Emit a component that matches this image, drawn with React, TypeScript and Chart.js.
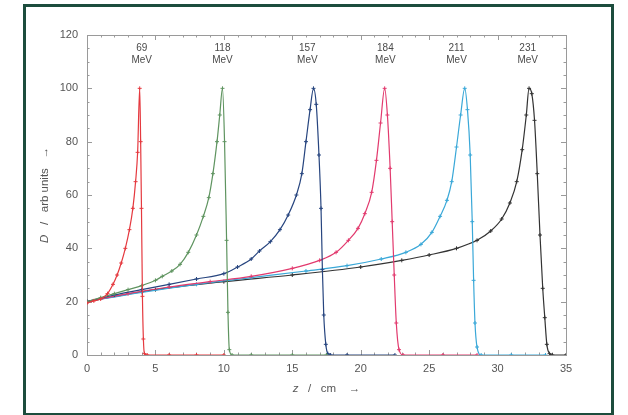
import React, { useEffect, useRef } from "react";
import { Chart, registerables } from "chart.js";

Chart.register(...registerables);

// Peak labels (beam energies) and their horizontal positions (cm)
const energyLabels = ["69", "118", "157", "184", "211", "231"];
const labelZ = [4.0, 9.9, 16.1, 21.8, 27.0, 32.2];

// 69 MeV
const z69 = [0, 0.5, 1, 1.5, 1.9, 2.2, 2.5, 2.8, 3.1, 3.35, 3.55, 3.7, 3.85, 3.92, 3.98, 4.05, 4.12, 4.2, 4.4, 6, 8, 10];
const d69 = [19.5, 20.3, 21, 23, 26.5, 30, 34.5, 40, 47, 55, 65, 76, 100, 80, 55, 22, 6, 0.5, 0, 0, 0, 0];

// 118 MeV
const z118 = [0, 1, 2, 3, 4, 5, 5.5, 6.2, 6.8, 7.4, 8.0, 8.5, 8.9, 9.2, 9.5, 9.7, 9.9, 10.05, 10.2, 10.3, 10.4, 10.6, 12, 15, 17.5];
const d118 = [20, 21.5, 23, 24.5, 26, 28, 29.5, 31.5, 34, 38.5, 45, 52, 59, 68, 80, 90, 100, 80, 43, 16, 2, 0, 0, 0, 0];

// 157 MeV
const z157 = [0, 2, 4, 6, 8, 10, 11, 12, 12.6, 13.4, 14.1, 14.7, 15.3, 15.7, 16.0, 16.3, 16.55, 16.75, 16.95, 17.1, 17.2, 17.3, 17.45, 17.6, 17.8, 19, 22.5];
const d157 = [20, 22.5, 24.5, 26.5, 28.5, 30.5, 33, 36, 39, 42.5, 47, 52.5, 60, 68, 80, 92, 100, 94, 75, 55, 32, 15, 4, 0.5, 0, 0, 0];

// 184 MeV
const z184 = [0, 3, 6, 9, 12, 15, 17, 18.2, 19.1, 19.8, 20.3, 20.8, 21.15, 21.45, 21.75, 21.95, 22.15, 22.3, 22.45, 22.6, 22.8, 23.1, 26, 28.5];
const d184 = [20, 23, 25.5, 27.5, 29.5, 32.5, 35.5, 38.5, 43, 47.5, 53, 61, 73, 87, 100, 90, 70, 50, 30, 12, 2, 0, 0, 0];

// 211 MeV
const z211 = [0, 4, 8, 12, 16, 19, 21.5, 23.3, 24.4, 25.2, 25.8, 26.3, 26.65, 27.0, 27.3, 27.6, 27.8, 28.0, 28.15, 28.25, 28.35, 28.5, 28.8, 31, 33.5];
const d211 = [20, 23.5, 26.5, 29, 31.5, 33.5, 36, 38.5, 41.5, 46, 52, 58, 65, 78, 90, 100, 92, 75, 50, 28, 12, 3, 0, 0, 0];

// 231 MeV
const z231 = [0, 5, 10, 15, 20, 23, 25, 27, 28.5, 29.5, 30.3, 30.9, 31.4, 31.8, 32.1, 32.3, 32.5, 32.7, 32.9, 33.1, 33.3, 33.45, 33.6, 33.8, 34.0, 35];
const d231 = [20, 24.5, 27.5, 30, 33, 35.5, 37.5, 40, 43, 46.5, 51, 57, 65, 77, 90, 100, 98, 88, 68, 45, 25, 14, 4, 0.5, 0, 0];

const seriesZ = [z69, z118, z157, z184, z211, z231];
const seriesD = [d69, d118, d157, d184, d211, d231];
const seriesColors = ["#e5393f", "#5f9460", "#27457f", "#e23a6e", "#3aa8d8", "#333333"];

const FONT = "'Liberation Sans', Arial, sans-serif";

const decorPlugin = {
  id: "decor",
  beforeDatasetsDraw(chart: any) {
    const { ctx, chartArea } = chart;
    const xs = chart.scales.x;
    const ys = chart.scales.y;
    const { left, right, top, bottom } = chartArea;
    ctx.save();
    ctx.strokeStyle = "#9a9a9a";
    ctx.lineWidth = 1;
    ctx.strokeRect(Math.round(left) + 0.5, Math.round(top) + 0.5, Math.round(right - left), Math.round(bottom - top));
    ctx.beginPath();
    for (let v = 1; v < 35; v++) {
      const px = Math.round(xs.getPixelForValue(v)) + 0.5;
      const len = v % 5 === 0 ? 5 : 2.5;
      ctx.moveTo(px, bottom);
      ctx.lineTo(px, bottom - len);
      ctx.moveTo(px, top);
      ctx.lineTo(px, top + len);
    }
    for (let v = 5; v < 120; v += 5) {
      const py = Math.round(ys.getPixelForValue(v)) + 0.5;
      const len = v % 20 === 0 ? 5 : 2.5;
      ctx.moveTo(left, py);
      ctx.lineTo(left + len, py);
      ctx.moveTo(right, py);
      ctx.lineTo(right - len, py);
    }
    ctx.stroke();
    ctx.restore();
  },
  afterDraw(chart: any) {
    const { ctx, chartArea } = chart;
    const xs = chart.scales.x;
    const ys = chart.scales.y;
    ctx.save();
    ctx.fillStyle = "#4a4a4a";
    ctx.textAlign = "center";
    ctx.textBaseline = "middle";
    ctx.font = `10px ${FONT}`;
    energyLabels.forEach((lab, i) => {
      const px = xs.getPixelForValue(labelZ[i]);
      ctx.fillText(lab, px, ys.getPixelForValue(115));
      ctx.fillText("MeV", px, ys.getPixelForValue(110.5));
    });

    const drawMixed = (parts: [string, boolean][], cx: number, cy: number) => {
      let total = 0;
      const widths = parts.map(([t, it]) => {
        ctx.font = `${it ? "italic " : ""}11.5px ${FONT}`;
        const w = ctx.measureText(t).width;
        total += w;
        return w;
      });
      let x = cx - total / 2;
      ctx.textAlign = "left";
      parts.forEach(([t, it], i) => {
        ctx.font = `${it ? "italic " : ""}11.5px ${FONT}`;
        ctx.fillText(t, x, cy);
        x += widths[i];
      });
    };
    ctx.fillStyle = "#555";
    const cx = (chartArea.left + chartArea.right) / 2;
    drawMixed([["z", true], ["   /   cm    \u2192", false]], cx, chartArea.bottom + 34);

    ctx.save();
    ctx.translate(chartArea.left - 42, (chartArea.top + chartArea.bottom) / 2);
    ctx.rotate(-Math.PI / 2);
    drawMixed([["D", true], ["   /   arb units   \u2192", false]], 0, 0);
    ctx.restore();
    ctx.restore();
  },
};

export default function App() {
  const canvasRef = useRef<HTMLCanvasElement | null>(null);

  useEffect(() => {
    if (!canvasRef.current) return;
    const datasets = seriesZ.map((zs, i) => ({
      label: energyLabels[i] + " MeV",
      data: zs.map((z, j) => ({ x: z, y: seriesD[i][j] })),
      borderColor: seriesColors[i],
      backgroundColor: seriesColors[i],
      borderWidth: 1.2,
      pointStyle: "cross",
      pointRadius: 2,
      pointBorderWidth: 1,
      pointBorderColor: seriesColors[i],
      cubicInterpolationMode: "monotone",
      fill: false,
    }));
    const chart = new Chart(canvasRef.current, {
      type: "line",
      data: { datasets } as any,
      options: {
        animation: false,
        responsive: false,
        devicePixelRatio: 1,
        layout: { padding: { left: 0, top: 35, right: 62, bottom: 0 } },
        plugins: { legend: { display: false }, tooltip: { enabled: false } },
        scales: {
          x: {
            type: "linear",
            min: 0,
            max: 35,
            grid: { display: false, drawTicks: false },
            border: { display: false },
            ticks: { stepSize: 5, padding: 7, color: "#555", font: { size: 11, family: FONT } },
            afterFit: (s: any) => {
              s.height = 60;
            },
          },
          y: {
            min: 0,
            max: 120,
            grid: { display: false, drawTicks: false },
            border: { display: false },
            ticks: { stepSize: 20, padding: 9, color: "#555", font: { size: 11, family: FONT } },
            afterFit: (s: any) => {
              s.width = 87;
            },
          },
        },
      } as any,
      plugins: [decorPlugin],
    });
    return () => chart.destroy();
  }, []);

  return (
    <div style={{ position: "absolute", left: 0, top: 0, width: 628, height: 415, background: "#fff" }}>
      <div
        style={{
          position: "absolute",
          left: 23,
          top: 4,
          width: 591,
          height: 411,
          boxSizing: "border-box",
          border: "3px solid #1d4d3d",
          borderBottomWidth: 2,
        }}
      />
      <canvas
        ref={canvasRef}
        width={628}
        height={415}
        style={{ position: "absolute", left: 0, top: 0, display: "block" }}
      />
    </div>
  );
}
